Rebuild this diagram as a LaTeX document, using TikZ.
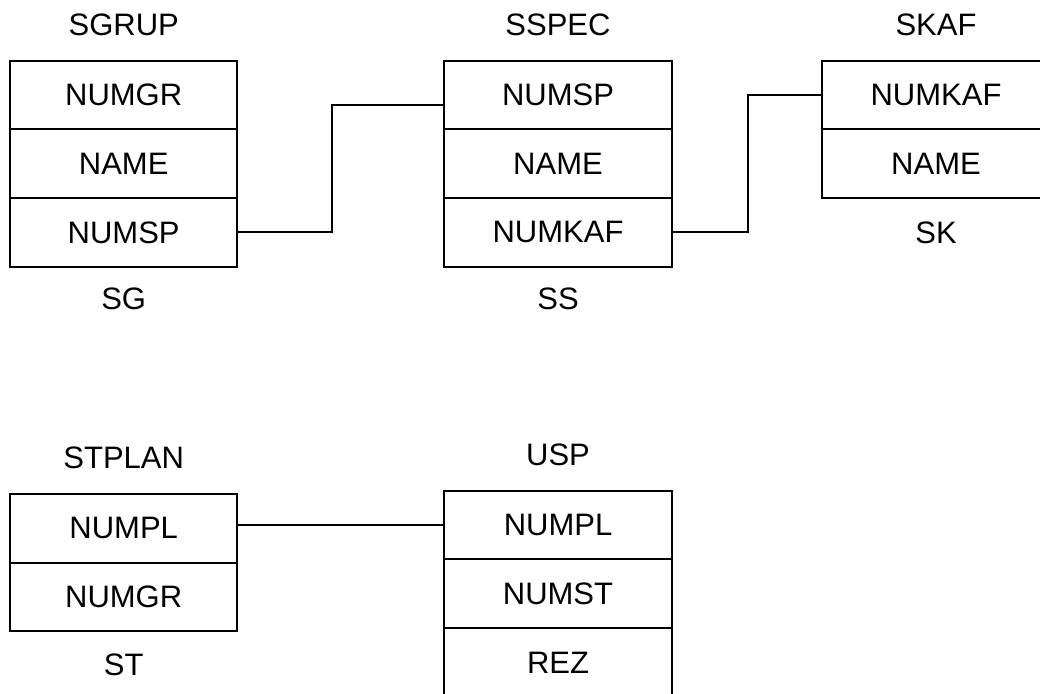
\documentclass[tikz,border=0pt]{standalone}
\usepackage{fontspec}
\setmainfont{Liberation Sans}
\begin{document}
\begin{tikzpicture}[x=1pt,y=-1pt,
  cell/.style={draw, line width=1.9pt, minimum width=227.3pt, minimum height=68.7pt, inner sep=0pt, font=\fontsize{31}{36}\selectfont},
  ttl/.style={inner sep=0pt, font=\fontsize{31}{36}\selectfont},
  link/.style={line width=1.9pt}]
\useasboundingbox (0,0) rectangle (1040,693);
\clip (0,0) rectangle (1040,693);
% SGRUP
\node[ttl] (sgt) at (123.7,24.5) {SGRUP};
\node[cell] (sg1) at (123.7,95) {NUMGR};
\node[cell] (sg2) at (123.7,163.7) {NAME};
\node[cell] (sg3) at (123.7,232.4) {NUMSP};
\node[ttl] (sgl) at (123.7,299) {SG};
% SSPEC
\node[ttl] (sst) at (558,24.5) {SSPEC};
\node[cell] (ss1) at (558,95) {NUMSP};
\node[cell] (ss2) at (558,163.7) {NAME};
\node[cell] (ss3) at (558,232.4) {NUMKAF};
\node[ttl] (ssl) at (558,299) {SS};
% SKAF
\node[ttl] (skt) at (936,24.5) {SKAF};
\node[cell] (sk1) at (936,95) {NUMKAF};
\node[cell] (sk2) at (936,163.7) {NAME};
\node[ttl] (skl) at (936,232.7) {SK};
% STPLAN
\node[ttl] (stt) at (123.7,458.3) {STPLAN};
\node[cell] (st1) at (123.7,528.3) {NUMPL};
\node[cell] (st2) at (123.7,597) {NUMGR};
\node[ttl] (stl) at (123.7,665) {ST};
% USP
\node[ttl] (ut) at (558,455) {USP};
\node[cell] (u1) at (558,525) {NUMPL};
\node[cell] (u2) at (558,593.7) {NUMST};
\node[cell] (u3) at (558,662.4) {REZ};
% connectors
\draw[link] (sg3.east) -- ++(94,0) |- ([yshift=-10pt]ss1.west);
\draw[link] (ss3.east) -- ++(75,0) |- (sk1.west);
\draw[link] (st1.east |- u1.west) -- (u1.west);
\end{tikzpicture}
\end{document}
